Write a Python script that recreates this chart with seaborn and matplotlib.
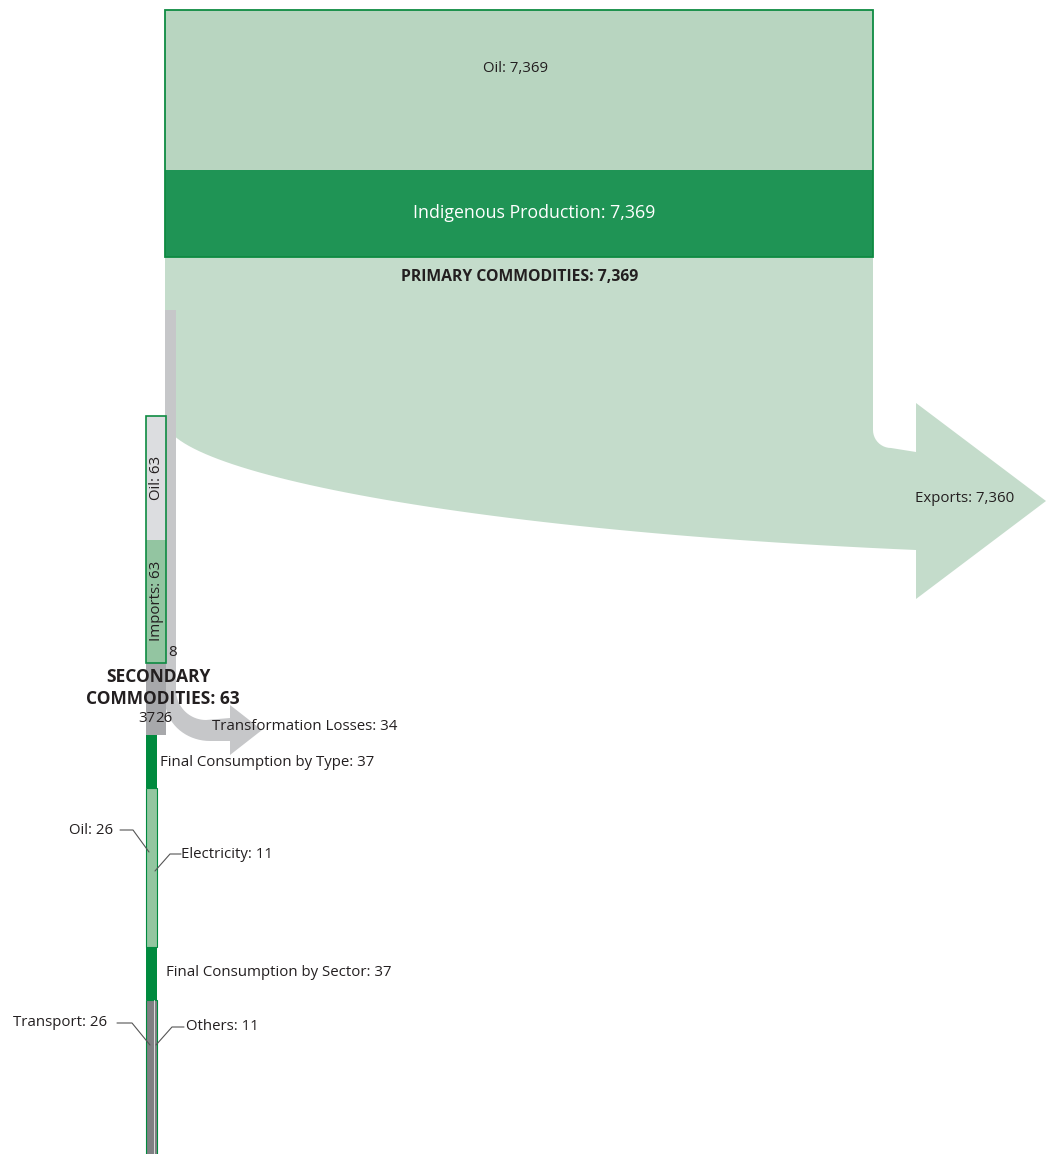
import numpy as np
import matplotlib.pyplot as plt
import matplotlib.patches as mpatches
import seaborn as sns

sns.set_theme(style='white')
plt.rcParams['font.family'] = ['Open Sans', 'DejaVu Sans']

# ---- data (PJ) ----
primary_labels = ['Oil', 'Indigenous Production']
primary_values = [7369, 7369]
exports_value = 7360
secondary_labels = ['Oil', 'Imports']
secondary_values = [63, 63]
secondary_total = 63
stream_value = 8
losses_value = 34
node_split = [37, 26]
by_type_labels = ['Oil', 'Electricity']
by_type_values = [26, 11]
by_sector_labels = ['Transport', 'Others']
by_sector_values = [26, 11]
final_type_total = 37
final_sector_total = 37

# Colours
C_TOPBOX = '#b8d5c0'
C_BAND = '#1f9455'
C_EDGE = '#0e8b42'
C_FLOW = '#c4dccb'
C_STREAM = '#c6c7c9'
C_OILBOX = '#dcdde0'
C_IMPORT = '#93c5a1'
C_NODE = '#a7a8ab'
C_DARK = '#008a3e'
C_LIGHT = '#93c6a0'
C_GREY = '#7f8083'
C_TEXT = '#231f20'

FS = 10.8      # normal labels
FS_B = 11.3    # bold primary label

# layout (pixels)
W, H = 1046, 1154
top_x0 = 165
top_scale = 708 / primary_values[0]
sec_x0 = 146
sec_scale = 0.31

fig = plt.figure(figsize=(W / 100, H / 100), dpi=100)
ax = fig.add_axes([0, 0, 1, 1])
ax.set_xlim(0, W)
ax.set_ylim(H, 0)
ax.axis('off')


def rect(x, y, w, h, fc, ec='none', lw=0, z=2):
    ax.add_patch(mpatches.Rectangle((x, y), w, h, facecolor=fc, edgecolor=ec, linewidth=lw, zorder=z))


def poly(pts, fc, z=1):
    ax.add_patch(mpatches.Polygon(pts, closed=True, facecolor=fc, edgecolor='none', zorder=z))


def bez(p0, p1, p2, p3, n=60):
    t = np.linspace(0, 1, n)[:, None]
    p0, p1, p2, p3 = map(np.array, (p0, p1, p2, p3))
    return ((1 - t) ** 3 * p0 + 3 * (1 - t) ** 2 * t * p1 + 3 * (1 - t) * t ** 2 * p2 + t ** 3 * p3).tolist()


# ---- primary node ----
top_w = primary_values[0] * top_scale
top_x1 = top_x0 + top_w
rect(top_x0, 10, top_w, 160, C_TOPBOX, z=3)
rect(top_x0, 170, top_w, 87, C_BAND, z=3)
rect(top_x0, 10, top_w, 247, 'none', ec=C_EDGE, lw=1.3, z=4)
ax.text((top_x0 + top_x1) / 2 - 3, 69, f'{primary_labels[0]}: {primary_values[0]:,}',
        ha='center', va='center', fontsize=FS, color=C_TEXT, zorder=5)
ax.text((top_x0 + top_x1) / 2 + 15, 213, f'{primary_labels[1]}: {primary_values[1]:,}',
        ha='center', va='center', fontsize=12.8, color='white', zorder=5)
ax.text((top_x0 + top_x1) / 2 + 1, 277, f'PRIMARY COMMODITIES: {primary_values[0]:,}',
        ha='center', va='center', fontsize=FS_B, fontweight='bold', color=C_TEXT, zorder=5)

# ---- exports flow ----
arr_x = 916
body_top, body_bot = 452, 550
head_half = 98
mid = (body_top + body_bot) / 2
corner = [(top_x1 + 18 - 18 * np.cos(a), 430 + 18 * np.sin(a)) for a in np.linspace(0, np.pi / 2, 12)]
flow = [(top_x0, 257), (top_x1, 257), (top_x1, 430)] + corner + [
    (arr_x, body_top), (arr_x, mid - head_half), (W, mid), (arr_x, mid + head_half), (arr_x, body_bot)]
flow += bez((arr_x, body_bot), (450, 530), (top_x0, 470), (top_x0, 420))
poly(flow, C_FLOW, z=1)
ax.text(965, 499, f'Exports: {exports_value:,}', ha='center', va='center', fontsize=FS, color=C_TEXT, zorder=5)

# ---- grey stream into secondary, turning into transformation losses ----
s_x0, s_x1 = 165, 176
stream = [(s_x0, 310), (s_x1, 310), (s_x1, 690)]
stream += [(206 - 30 * np.cos(a), 690 + 30 * np.sin(a)) for a in np.linspace(0, np.pi / 2, 20)]
stream += [(230, 718), (230, 705), (262, 730), (230, 755), (230, 741)]
stream += [(210 - 45 * np.sin(b), 700 + 41 * np.cos(b)) for b in np.linspace(0, np.pi / 2, 20)]
stream += [(158, 700), (158, 663), (s_x0, 663)]
poly(stream, C_STREAM, z=2)
ax.text(212, 727, f'Transformation Losses: {losses_value}', ha='left', va='center',
        fontsize=FS, color=C_TEXT, zorder=6)

# ---- secondary node ----
sec_w = secondary_total * sec_scale
rect(sec_x0, 416, sec_w, 124, C_OILBOX, z=3)
rect(sec_x0, 540, sec_w, 123, C_IMPORT, z=3)
rect(sec_x0, 416, sec_w, 247, 'none', ec=C_EDGE, lw=1.2, z=4)
ax.text(sec_x0 + sec_w / 2 + 1, 478, f'{secondary_labels[0]}: {secondary_values[0]}', rotation=90,
        ha='center', va='center', fontsize=FS, color=C_TEXT, zorder=5)
ax.text(sec_x0 + sec_w / 2 + 1, 601, f'{secondary_labels[1]}: {secondary_values[1]}', rotation=90,
        ha='center', va='center', fontsize=FS, color=C_TEXT, zorder=5)
rect(sec_x0, 663, sec_w, 72, C_NODE, z=3)
ax.text(168, 652, f'{stream_value}', ha='left', va='center', fontsize=FS, color=C_TEXT, zorder=6)
ax.text(158, 677, 'SECONDARY', ha='center', va='center', fontsize=12.5, fontweight='bold', color=C_TEXT, zorder=6)
ax.text(163, 699, f'COMMODITIES: {secondary_total}', ha='center', va='center', fontsize=12.5,
        fontweight='bold', color=C_TEXT, zorder=6)
ax.text(155, 718, f'{node_split[0]}', ha='right', va='center', fontsize=FS, color=C_TEXT, zorder=6)
ax.text(155, 718, f'{node_split[1]}', ha='left', va='center', fontsize=FS, color=C_TEXT, zorder=6)

# ---- final consumption column ----
fin_w = final_type_total * sec_scale
split_w = by_type_values[0] * sec_scale
rect(sec_x0, 735, fin_w, 53, C_DARK, z=3)
ax.text(160, 762, f'Final Consumption by Type: {final_type_total}', ha='left', va='center',
        fontsize=FS, color=C_TEXT, zorder=6)
rect(sec_x0, 788, fin_w, 159, C_LIGHT, ec=C_DARK, lw=0.8, z=3)
rect(sec_x0, 947, fin_w, 53, C_DARK, z=3)
ax.text(166, 973, f'Final Consumption by Sector: {final_sector_total}', ha='left', va='center',
        fontsize=FS, color=C_TEXT, zorder=6)
rect(sec_x0, 1000, fin_w, H - 1000 + 5, C_GREY, ec=C_DARK, lw=0.8, z=3)
ax.plot([sec_x0 + split_w] * 2, [1000, H], color='#dedede', lw=0.7, zorder=4)

# leader lines and labels
lead = dict(color='#555555', lw=0.8, zorder=6)
ax.plot([120, 133, 149], [830, 830, 852], **lead)
ax.text(113, 830, f'{by_type_labels[0]}: {by_type_values[0]}', ha='right', va='center', fontsize=FS, color=C_TEXT)
ax.plot([181, 170, 155], [854, 854, 871], **lead)
ax.text(181, 854, f'{by_type_labels[1]}: {by_type_values[1]}', ha='left', va='center', fontsize=FS, color=C_TEXT)
ax.plot([117, 132, 150], [1023, 1023, 1045], **lead)
ax.text(107, 1023, f'{by_sector_labels[0]}: {by_sector_values[0]}', ha='right', va='center', fontsize=FS, color=C_TEXT)
ax.plot([184, 172, 156], [1027, 1027, 1045], **lead)
ax.text(186, 1027, f'{by_sector_labels[1]}: {by_sector_values[1]}', ha='left', va='center', fontsize=FS, color=C_TEXT)

fig.savefig('out.png', dpi=100, facecolor='white')
